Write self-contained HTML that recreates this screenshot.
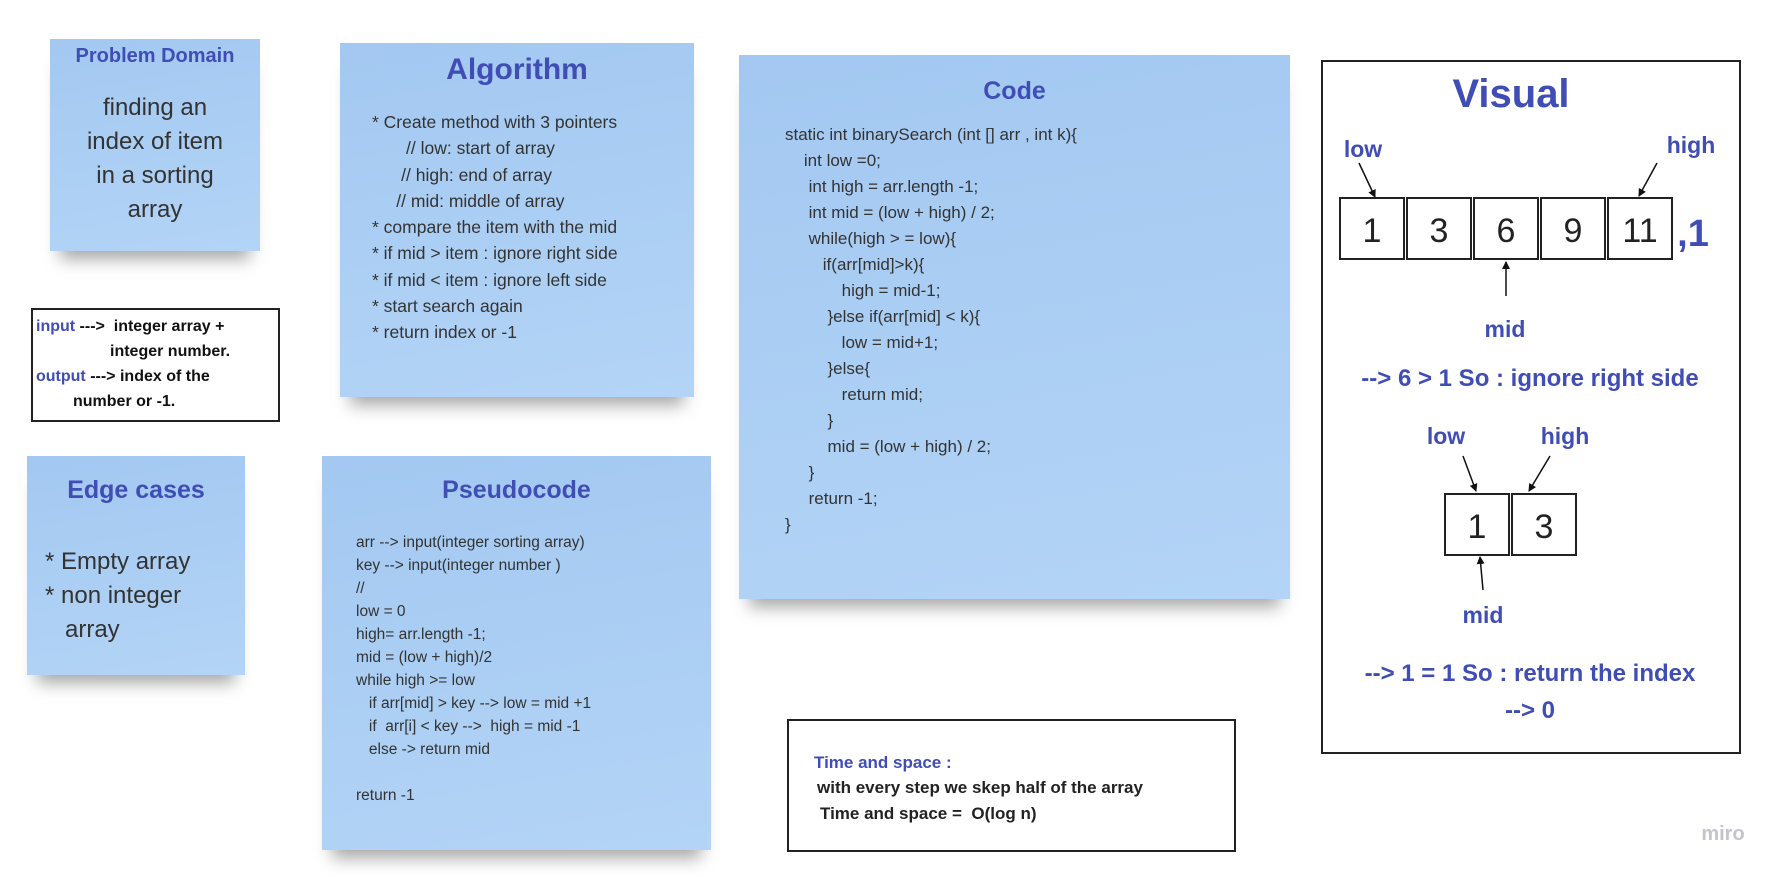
<!DOCTYPE html>
<html><head><meta charset="utf-8"><style>
*{margin:0;padding:0;box-sizing:border-box}
body{width:1780px;height:877px;background:#fff;position:relative;overflow:hidden;font-family:"Liberation Sans",sans-serif;color:#333}
.note{position:absolute;background:linear-gradient(170deg,#a3c8f1,#b3d4f6);box-shadow:0 18px 16px -10px rgba(0,0,0,.35)}
.t{position:absolute;color:#3f4db5;font-weight:bold;white-space:nowrap}
.l{position:absolute;white-space:pre;color:#333}
.box{position:absolute;border:2px solid #222;background:#fff}
.b{color:#3f4db5}
</style></head><body>

<div class="note" style="left:50px;top:39px;width:210px;height:212px">
 <div class="t" style="left:0;width:210px;text-align:center;top:6px;font-size:20px">Problem Domain</div>
 <div style="position:absolute;left:0;width:210px;top:52px;text-align:center;font-size:24px;line-height:34px;color:#333">finding an<br>index of item<br>in a sorting<br>array</div>
</div>

<div class="box" style="left:31px;top:308px;width:249px;height:114px;font-weight:bold;font-size:16px;line-height:25px;color:#111">
 <div class="l" style="left:3px;top:4px;color:#111"><span class="b">input</span> ---&gt;  integer array +</div>
 <div class="l" style="left:77px;top:29px;color:#111">integer number.</div>
 <div class="l" style="left:3px;top:54px;color:#111"><span class="b">output</span> ---&gt; index of the</div>
 <div class="l" style="left:40px;top:79px;color:#111">number or -1.</div>
</div>

<div class="note" style="left:27px;top:456px;width:218px;height:219px">
 <div class="t" style="left:0;width:218px;text-align:center;top:20px;font-size:25px">Edge cases</div>
 <div class="l" style="left:18px;top:89px;font-size:24px;line-height:34px">* Empty array
* non integer
   array</div>
</div>

<div class="note" style="left:340px;top:43px;width:354px;height:354px">
 <div class="t" style="left:0;width:354px;text-align:center;top:10px;font-size:30px">Algorithm</div>
 <div class="l" style="left:32px;top:66px;font-size:17.5px;line-height:26.3px">* Create method with 3 pointers
       // low: start of array
      // high: end of array
     // mid: middle of array
* compare the item with the mid
* if mid &gt; item : ignore right side
* if mid &lt; item : ignore left side
* start search again
* return index or -1</div>
</div>

<div class="note" style="left:322px;top:456px;width:389px;height:394px">
 <div class="t" style="left:0;width:389px;text-align:center;top:20px;font-size:25px">Pseudocode</div>
 <div class="l" style="left:34px;top:75px;font-size:15.5px;line-height:23px">arr --&gt; input(integer sorting array)
key --&gt; input(integer number )
//
low = 0
high= arr.length -1;
mid = (low + high)/2
while high &gt;= low
   if arr[mid] &gt; key --&gt; low = mid +1
   if  arr[i] &lt; key --&gt;  high = mid -1
   else -&gt; return mid

return -1</div>
</div>

<div class="note" style="left:739px;top:55px;width:551px;height:544px">
 <div class="t" style="left:0;width:551px;text-align:center;top:22px;font-size:25px">Code</div>
 <div class="l" style="left:46px;top:67px;font-size:17px;line-height:26px">static int binarySearch (int [] arr , int k){
    int low =0;
     int high = arr.length -1;
     int mid = (low + high) / 2;
     while(high &gt; = low){
        if(arr[mid]&gt;k){
            high = mid-1;
         }else if(arr[mid] &lt; k){
            low = mid+1;
         }else{
            return mid;
         }
         mid = (low + high) / 2;
     }
     return -1;
}</div>
</div>

<div class="box" style="left:787px;top:719px;width:449px;height:133px;font-weight:bold;font-size:17px;line-height:25.5px">
 <div class="l" style="left:25px;top:29px;color:#3f4db5">Time and space :</div>
 <div class="l" style="left:28px;top:54px;color:#222">with every step we skep half of the array</div>
 <div class="l" style="left:31px;top:80px;color:#222">Time and space =  O(log n)</div>
</div>

<div class="box" style="left:1321px;top:60px;width:420px;height:694px"></div>
<svg style="position:absolute;left:0;top:0" width="1780" height="877">
 <defs><marker id="a" markerWidth="8" markerHeight="8" refX="7" refY="4" orient="auto" markerUnits="userSpaceOnUse"><path d="M0,0 L8,4 L0,8 z" fill="#111"/></marker></defs>
 <g transform="translate(-7,0)">
 <g font-family="Liberation Sans,sans-serif" font-weight="bold" fill="#3f4db5" text-anchor="middle">
  <text x="1518" y="107" font-size="40">Visual</text>
  <text x="1370" y="157" font-size="23">low</text>
  <text x="1698" y="153" font-size="23">high</text>
  <text x="1700" y="246" font-size="38">,1</text>
  <text x="1512" y="337" font-size="23">mid</text>
  <text x="1537" y="386" font-size="24">--&gt; 6 &gt; 1 So : ignore right side</text>
  <text x="1453" y="444" font-size="23">low</text>
  <text x="1572" y="444" font-size="23">high</text>
  <text x="1490" y="623" font-size="23">mid</text>
  <text x="1537" y="681" font-size="24">--&gt; 1 = 1 So : return the index</text>
  <text x="1537" y="718" font-size="24">--&gt; 0</text>
 </g>
 <g fill="#fff" stroke="#222" stroke-width="2">
  <rect x="1347" y="198" width="64" height="61"/><rect x="1414" y="198" width="64" height="61"/><rect x="1481" y="198" width="64" height="61"/><rect x="1548" y="198" width="64" height="61"/><rect x="1615" y="198" width="64" height="61"/>
  <rect x="1452" y="494" width="64" height="61"/><rect x="1519" y="494" width="64" height="61"/>
 </g>
 <g font-family="Liberation Sans,sans-serif" font-size="34" fill="#222" text-anchor="middle">
  <text x="1379" y="242">1</text><text x="1446" y="242">3</text><text x="1513" y="242">6</text><text x="1580" y="242">9</text><text x="1647" y="242">11</text>
  <text x="1484" y="538">1</text><text x="1551" y="538">3</text>
 </g>
 <g stroke="#111" stroke-width="1.5" marker-end="url(#a)">
  <line x1="1366" y1="163" x2="1382" y2="197"/>
  <line x1="1664" y1="163" x2="1646" y2="196"/>
  <line x1="1513" y1="296" x2="1513" y2="262"/>
  <line x1="1470" y1="456" x2="1483" y2="491"/>
  <line x1="1557" y1="456" x2="1536" y2="491"/>
  <line x1="1490" y1="590" x2="1487" y2="557"/>
 </g>
 </g>
 <text x="1723" y="840" font-family="Liberation Sans,sans-serif" font-weight="bold" font-size="20" fill="#c4c4cc" text-anchor="middle">miro</text>
</svg>
</body></html>
